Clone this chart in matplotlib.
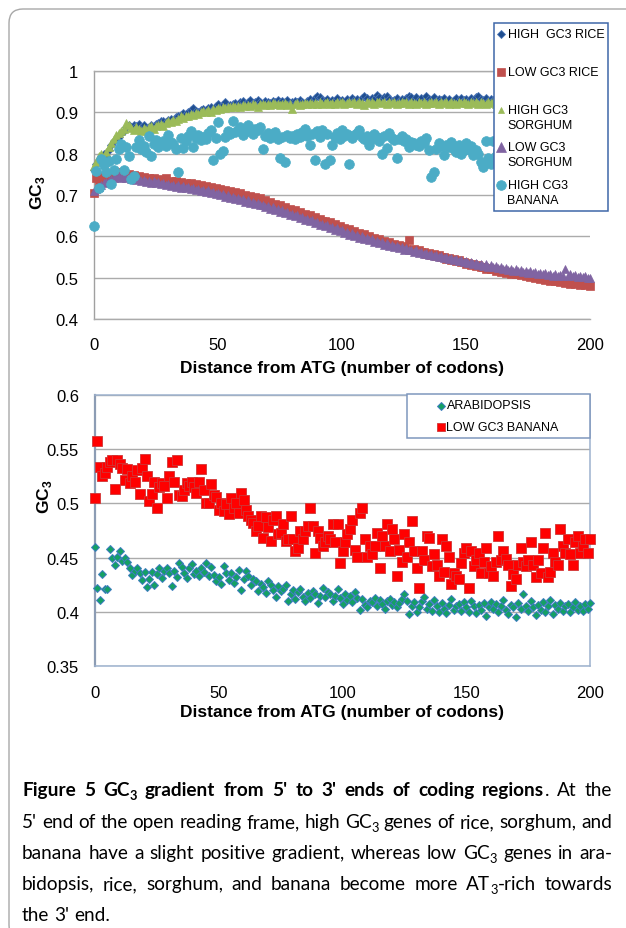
import numpy as np
import matplotlib
matplotlib.use("Agg")
import matplotlib.pyplot as plt
from matplotlib.lines import Line2D
from matplotlib.patches import Rectangle, FancyBboxPatch
from matplotlib.transforms import IdentityTransform
from matplotlib import font_manager

# ---------------- data ----------------
HIGH_GC3_RICE = [
    0.760, 0.775, 0.785, 0.790, 0.800, 0.795, 0.810, 0.820, 0.830, 0.835,
    0.840, 0.850, 0.855, 0.865, 0.870, 0.865, 0.870, 0.868, 0.872, 0.865,
    0.870, 0.860, 0.865, 0.870, 0.868, 0.872, 0.875, 0.878, 0.880, 0.876,
    0.882, 0.885, 0.880, 0.888, 0.890, 0.893, 0.898, 0.895, 0.900, 0.905,
    0.910, 0.903, 0.900, 0.905, 0.908, 0.906, 0.910, 0.912, 0.908, 0.915,
    0.920, 0.914, 0.918, 0.925, 0.915, 0.918, 0.920, 0.922, 0.917, 0.925,
    0.928, 0.920, 0.925, 0.930, 0.922, 0.926, 0.930, 0.924, 0.920, 0.927,
    0.925, 0.922, 0.928, 0.925, 0.930, 0.924, 0.927, 0.925, 0.930, 0.922,
    0.926, 0.928, 0.924, 0.930, 0.926, 0.922, 0.928, 0.932, 0.926, 0.935,
    0.940, 0.936, 0.930, 0.928, 0.933, 0.926, 0.930, 0.928, 0.934, 0.927,
    0.930, 0.926, 0.932, 0.928, 0.935, 0.930, 0.933, 0.928, 0.935, 0.940,
    0.934, 0.928, 0.935, 0.932, 0.943, 0.938, 0.930, 0.936, 0.940, 0.932,
    0.928, 0.930, 0.935, 0.927, 0.932, 0.928, 0.934, 0.940, 0.936, 0.930,
    0.938, 0.930, 0.935, 0.928, 0.940, 0.933, 0.930, 0.936, 0.928, 0.932,
    0.930, 0.935, 0.928, 0.932, 0.926, 0.930, 0.934, 0.928, 0.935, 0.930,
    0.932, 0.928, 0.934, 0.930, 0.936, 0.940, 0.932, 0.930, 0.934, 0.928,
    0.932, 0.930, 0.935, 0.928, 0.932, 0.930, 0.934, 0.928, 0.932, 0.936,
    0.930, 0.928, 0.932, 0.930, 0.934, 0.928, 0.932, 0.930, 0.934, 0.928,
    0.932, 0.930, 0.934, 0.928, 0.932, 0.930, 0.934, 0.928, 0.932, 0.930,
    0.934, 0.928, 0.932, 0.930, 0.934, 0.928, 0.932, 0.930, 0.934, 0.928,
    0.932]

LOW_GC3_RICE = [
    0.705, 0.740, 0.725, 0.745, 0.735, 0.748, 0.740, 0.752, 0.745, 0.755,
    0.750, 0.748, 0.752, 0.746, 0.750, 0.744, 0.748, 0.742, 0.746, 0.740,
    0.744, 0.738, 0.742, 0.736, 0.740, 0.734, 0.738, 0.732, 0.736, 0.740,
    0.732, 0.735, 0.730, 0.733, 0.728, 0.732, 0.726, 0.730, 0.724, 0.728,
    0.722, 0.726, 0.720, 0.724, 0.718, 0.722, 0.716, 0.720, 0.714, 0.718,
    0.712, 0.715, 0.709, 0.712, 0.706, 0.710, 0.703, 0.707, 0.700, 0.704,
    0.697, 0.700, 0.694, 0.698, 0.690, 0.695, 0.688, 0.692, 0.685, 0.688,
    0.680, 0.683, 0.676, 0.679, 0.672, 0.675, 0.668, 0.671, 0.664, 0.667,
    0.660, 0.663, 0.656, 0.659, 0.652, 0.655, 0.648, 0.651, 0.644, 0.647,
    0.640, 0.643, 0.636, 0.638, 0.631, 0.634, 0.627, 0.630, 0.623, 0.625,
    0.618, 0.621, 0.614, 0.617, 0.610, 0.612, 0.606, 0.608, 0.602, 0.605,
    0.598, 0.600, 0.594, 0.597, 0.590, 0.593, 0.587, 0.589, 0.583, 0.586,
    0.580, 0.582, 0.577, 0.579, 0.573, 0.576, 0.570, 0.590, 0.567, 0.569,
    0.564, 0.566, 0.561, 0.563, 0.558, 0.560, 0.555, 0.557, 0.552, 0.554,
    0.549, 0.551, 0.546, 0.548, 0.543, 0.545, 0.540, 0.542, 0.537, 0.539,
    0.534, 0.536, 0.531, 0.533, 0.528, 0.530, 0.525, 0.527, 0.522, 0.524,
    0.520, 0.521, 0.517, 0.519, 0.514, 0.516, 0.512, 0.513, 0.509, 0.511,
    0.508, 0.510, 0.506, 0.508, 0.504, 0.506, 0.502, 0.504, 0.500, 0.502,
    0.497, 0.499, 0.495, 0.497, 0.493, 0.495, 0.491, 0.493, 0.489, 0.491,
    0.487, 0.489, 0.485, 0.487, 0.484, 0.486, 0.483, 0.485, 0.482, 0.484,
    0.481]

HIGH_GC3_SORGHUM = [
    0.770, 0.780, 0.795, 0.800, 0.790, 0.805, 0.815, 0.825, 0.835, 0.845,
    0.850, 0.855, 0.860, 0.875, 0.870, 0.862, 0.858, 0.865, 0.860, 0.855,
    0.862, 0.858, 0.865, 0.868, 0.860, 0.866, 0.870, 0.872, 0.868, 0.875,
    0.880, 0.876, 0.882, 0.878, 0.885, 0.890, 0.887, 0.892, 0.890, 0.895,
    0.893, 0.898, 0.895, 0.900, 0.903, 0.900, 0.905, 0.902, 0.908, 0.905,
    0.910, 0.908, 0.912, 0.910, 0.914, 0.912, 0.915, 0.913, 0.916, 0.914,
    0.918, 0.915, 0.918, 0.916, 0.920, 0.917, 0.912, 0.919, 0.921, 0.918,
    0.920, 0.918, 0.922, 0.919, 0.921, 0.917, 0.920, 0.922, 0.918, 0.921,
    0.908, 0.920, 0.922, 0.918, 0.921, 0.923, 0.920, 0.922, 0.919, 0.923,
    0.921, 0.924, 0.920, 0.922, 0.925, 0.921, 0.923, 0.920, 0.924, 0.922,
    0.925, 0.921, 0.923, 0.926, 0.922, 0.924, 0.920, 0.925, 0.922, 0.918,
    0.924, 0.922, 0.925, 0.921, 0.924, 0.926, 0.922, 0.925, 0.921, 0.924,
    0.922, 0.925, 0.921, 0.923, 0.926, 0.922, 0.924, 0.921, 0.925, 0.923,
    0.920, 0.924, 0.922, 0.926, 0.921, 0.923, 0.925, 0.922, 0.924, 0.921,
    0.925, 0.922, 0.924, 0.920, 0.925, 0.923, 0.921, 0.924, 0.922, 0.926,
    0.923, 0.921, 0.925, 0.922, 0.924, 0.921, 0.926, 0.923, 0.921, 0.925,
    0.922, 0.924, 0.921, 0.925, 0.923, 0.921, 0.924, 0.922, 0.925, 0.921,
    0.923, 0.925, 0.922, 0.924, 0.921, 0.925, 0.923, 0.921, 0.924, 0.922,
    0.925, 0.921, 0.923, 0.925, 0.922, 0.924, 0.921, 0.925, 0.923, 0.921,
    0.924, 0.922, 0.925, 0.921, 0.923, 0.925, 0.922, 0.924, 0.921, 0.925,
    0.923]

LOW_GC3_SORGHUM = [
    0.710, 0.715, 0.720, 0.725, 0.728, 0.732, 0.735, 0.738, 0.742, 0.745,
    0.745, 0.742, 0.745, 0.740, 0.743, 0.738, 0.741, 0.736, 0.739, 0.734,
    0.737, 0.732, 0.735, 0.730, 0.733, 0.728, 0.731, 0.726, 0.729, 0.724,
    0.727, 0.722, 0.725, 0.720, 0.723, 0.718, 0.721, 0.716, 0.719, 0.714,
    0.717, 0.712, 0.715, 0.710, 0.713, 0.708, 0.711, 0.705, 0.708, 0.702,
    0.705, 0.699, 0.702, 0.696, 0.699, 0.693, 0.696, 0.690, 0.693, 0.687,
    0.690, 0.684, 0.687, 0.681, 0.684, 0.678, 0.681, 0.675, 0.677, 0.671,
    0.673, 0.667, 0.670, 0.664, 0.666, 0.660, 0.663, 0.656, 0.659, 0.652,
    0.655, 0.648, 0.651, 0.644, 0.647, 0.640, 0.643, 0.636, 0.639, 0.632,
    0.635, 0.628, 0.631, 0.624, 0.627, 0.620, 0.623, 0.616, 0.619, 0.612,
    0.615, 0.608, 0.611, 0.604, 0.607, 0.600, 0.603, 0.597, 0.600, 0.593,
    0.596, 0.590, 0.593, 0.586, 0.589, 0.583, 0.586, 0.580, 0.583, 0.577,
    0.580, 0.574, 0.577, 0.571, 0.574, 0.568, 0.571, 0.566, 0.568, 0.563,
    0.566, 0.560, 0.563, 0.558, 0.560, 0.555, 0.558, 0.552, 0.555, 0.550,
    0.552, 0.547, 0.550, 0.545, 0.548, 0.542, 0.545, 0.540, 0.543, 0.538,
    0.540, 0.535, 0.538, 0.533, 0.536, 0.531, 0.534, 0.529, 0.532, 0.527,
    0.530, 0.525, 0.528, 0.523, 0.526, 0.521, 0.524, 0.519, 0.522, 0.517,
    0.520, 0.515, 0.518, 0.514, 0.517, 0.512, 0.515, 0.511, 0.514, 0.509,
    0.512, 0.508, 0.511, 0.506, 0.509, 0.505, 0.508, 0.504, 0.507, 0.503,
    0.520, 0.505, 0.508, 0.503, 0.506, 0.502, 0.505, 0.501, 0.504, 0.500,
    0.498]

HIGH_CG3_BANANA = [
    0.625, 0.759, 0.716, 0.787, 0.772, 0.755, 0.783, 0.726, 0.761, 0.787,
    0.811, 0.823, 0.761, 0.817, 0.795, 0.739, 0.747, 0.816, 0.834, 0.812,
    0.818, 0.803, 0.842, 0.795, 0.823, 0.834, 0.815, 0.825, 0.830, 0.818,
    0.846, 0.828, 0.823, 0.812, 0.755, 0.838, 0.814, 0.830, 0.842, 0.855,
    0.816, 0.838, 0.845, 0.832, 0.840, 0.836, 0.850, 0.858, 0.784, 0.838,
    0.876, 0.800, 0.806, 0.840, 0.855, 0.848, 0.880, 0.852, 0.858, 0.864,
    0.845, 0.852, 0.870, 0.860, 0.848, 0.860, 0.858, 0.865, 0.811, 0.842,
    0.850, 0.838, 0.846, 0.852, 0.835, 0.790, 0.840, 0.780, 0.845, 0.838,
    0.843, 0.836, 0.848, 0.840, 0.852, 0.860, 0.842, 0.820, 0.848, 0.785,
    0.855, 0.840, 0.857, 0.776, 0.848, 0.785, 0.820, 0.840, 0.850, 0.835,
    0.857, 0.842, 0.848, 0.776, 0.838, 0.845, 0.850, 0.858, 0.840, 0.835,
    0.842, 0.822, 0.836, 0.848, 0.840, 0.830, 0.800, 0.842, 0.814, 0.850,
    0.838, 0.832, 0.790, 0.836, 0.842, 0.830, 0.835, 0.815, 0.828, 0.825,
    0.822, 0.818, 0.831, 0.826, 0.839, 0.810, 0.743, 0.755, 0.812, 0.825,
    0.818, 0.796, 0.822, 0.815, 0.828, 0.812, 0.805, 0.822, 0.800, 0.810,
    0.826, 0.812, 0.818, 0.796, 0.808, 0.800, 0.780, 0.767, 0.831, 0.790,
    0.775, 0.830, 0.795, 0.810, 0.820, 0.805, 0.815, 0.800, 0.825, 0.812,
    0.808, 0.818, 0.806, 0.822, 0.810, 0.800, 0.816, 0.812, 0.805, 0.820,
    0.808, 0.815, 0.802, 0.818, 0.810, 0.806, 0.820, 0.812, 0.800, 0.816,
    0.808, 0.814, 0.805, 0.818, 0.810, 0.802, 0.815, 0.808, 0.812, 0.806,
    0.810]

ARABIDOPSIS = [
    0.460, 0.422, 0.411, 0.435, 0.421, 0.421, 0.458, 0.450, 0.443, 0.451,
    0.456, 0.447, 0.450, 0.446, 0.440, 0.434, 0.438, 0.440, 0.436, 0.429,
    0.437, 0.423, 0.430, 0.437, 0.425, 0.435, 0.440, 0.431, 0.438, 0.440,
    0.436, 0.424, 0.438, 0.432, 0.445, 0.441, 0.436, 0.431, 0.440, 0.444,
    0.435, 0.438, 0.433, 0.440, 0.437, 0.445, 0.433, 0.441, 0.434, 0.428,
    0.432, 0.426, 0.442, 0.436, 0.429, 0.436, 0.427, 0.432, 0.439, 0.420,
    0.430, 0.438, 0.433, 0.425, 0.430, 0.428, 0.419, 0.426, 0.423, 0.417,
    0.428, 0.425, 0.420, 0.414, 0.424, 0.419, 0.421, 0.425, 0.410, 0.416,
    0.420, 0.412, 0.418, 0.421, 0.414, 0.410, 0.417, 0.413, 0.419, 0.416,
    0.408, 0.415, 0.422, 0.414, 0.418, 0.416, 0.410, 0.415, 0.421, 0.413,
    0.407, 0.416, 0.411, 0.415, 0.409, 0.418, 0.413, 0.402, 0.412, 0.406,
    0.404, 0.410, 0.409, 0.413, 0.405, 0.411, 0.407, 0.403, 0.410, 0.412,
    0.406, 0.409, 0.404, 0.408, 0.412, 0.416, 0.410, 0.398, 0.405, 0.409,
    0.400, 0.404, 0.410, 0.414, 0.403, 0.407, 0.401, 0.411, 0.405, 0.400,
    0.408, 0.403, 0.399, 0.406, 0.412, 0.402, 0.405, 0.407, 0.401, 0.409,
    0.404, 0.400, 0.410, 0.405, 0.399, 0.406, 0.402, 0.408, 0.396, 0.404,
    0.409, 0.403, 0.407, 0.400, 0.405, 0.411, 0.402, 0.398, 0.406, 0.404,
    0.395, 0.408, 0.403, 0.416, 0.405, 0.401, 0.410, 0.404, 0.397, 0.406,
    0.402, 0.409, 0.400, 0.405, 0.411, 0.398, 0.406, 0.403, 0.408, 0.401,
    0.405, 0.407, 0.400, 0.404, 0.409, 0.402, 0.405, 0.401, 0.407, 0.403,
    0.408]

LOW_GC3_BANANA = [
    0.505, 0.558, 0.534, 0.525, 0.528, 0.534, 0.538, 0.540, 0.513, 0.540,
    0.536, 0.533, 0.522, 0.532, 0.519, 0.525, 0.520, 0.531, 0.509, 0.533,
    0.541, 0.525, 0.502, 0.509, 0.520, 0.496, 0.515, 0.519, 0.516, 0.505,
    0.525, 0.538, 0.520, 0.540, 0.508, 0.507, 0.512, 0.519, 0.516, 0.520,
    0.515, 0.510, 0.520, 0.532, 0.512, 0.500, 0.500, 0.518, 0.508, 0.506,
    0.494, 0.500, 0.493, 0.499, 0.490, 0.505, 0.496, 0.500, 0.491, 0.510,
    0.503, 0.494, 0.488, 0.485, 0.482, 0.475, 0.479, 0.488, 0.468, 0.487,
    0.478, 0.465, 0.485, 0.488, 0.472, 0.473, 0.481, 0.465, 0.467, 0.488,
    0.467, 0.456, 0.459, 0.475, 0.467, 0.475, 0.479, 0.496, 0.479, 0.454,
    0.475, 0.468, 0.461, 0.464, 0.470, 0.467, 0.481, 0.464, 0.481, 0.445,
    0.456, 0.464, 0.472, 0.476, 0.485, 0.457, 0.451, 0.491, 0.496, 0.467,
    0.451, 0.461, 0.453, 0.461, 0.473, 0.440, 0.470, 0.461, 0.481, 0.456,
    0.476, 0.467, 0.433, 0.457, 0.446, 0.472, 0.451, 0.464, 0.484, 0.456,
    0.440, 0.422, 0.456, 0.448, 0.470, 0.468, 0.442, 0.453, 0.443, 0.433,
    0.467, 0.437, 0.461, 0.451, 0.426, 0.436, 0.433, 0.430, 0.445, 0.454,
    0.459, 0.422, 0.456, 0.442, 0.448, 0.454, 0.436, 0.446, 0.459, 0.436,
    0.442, 0.433, 0.446, 0.470, 0.448, 0.456, 0.449, 0.443, 0.424, 0.435,
    0.430, 0.443, 0.459, 0.446, 0.442, 0.448, 0.464, 0.443, 0.432, 0.448,
    0.436, 0.459, 0.473, 0.432, 0.437, 0.454, 0.446, 0.443, 0.476, 0.461,
    0.454, 0.467, 0.453, 0.443, 0.464, 0.470, 0.454, 0.461, 0.467, 0.454,
    0.467]

X_TICKS = [0, 50, 100, 150, 200]
Y_TICKS_TOP = [0.4, 0.5, 0.6, 0.7, 0.8, 0.9, 1.0]
Y_LABELS_TOP = ["0.4", "0.5", "0.6", "0.7", "0.8", "0.9", "1"]
Y_TICKS_BOT = [0.35, 0.4, 0.45, 0.5, 0.55, 0.6]
Y_LABELS_BOT = ["0.35", "0.4", "0.45", "0.5", "0.55", "0.6"]

TOP_LEGEND = ["HIGH  GC3 RICE", "LOW GC3 RICE", "HIGH GC3\nSORGHUM",
              "LOW GC3\nSORGHUM", "HIGH CG3\nBANANA"]
BOT_LEGEND = ["ARABIDOPSIS", "LOW GC3 BANANA"]
XLABEL = "Distance from ATG (number of codons)"
YLABEL = r"$\mathbf{GC}_{\mathbf{3}}$"

CAPTION = [
    "*Figure 5 GC_3 gradient from 5' to 3' ends of coding regions*. At the",
    "5' end of the open reading frame, high GC_3 genes of rice, sorghum, and",
    "banana have a slight positive gradient, whereas low GC_3 genes in ara-",
    "bidopsis, rice, sorghum, and banana become more AT_3-rich towards",
    "the 3' end.",
]

# ---------------- style ----------------
plt.rcParams['font.family'] = ['Liberation Sans', 'DejaVu Sans']
plt.rcParams['mathtext.fontset'] = 'custom'
plt.rcParams['mathtext.rm'] = 'Liberation Sans'
plt.rcParams['mathtext.bf'] = 'Liberation Sans:bold'

W, H = 626, 929
fig = plt.figure(figsize=(W / 100, H / 100), dpi=100)
fig.patch.set_facecolor('white')


def fx(px):
    return px / W


def fy(py):
    return 1 - py / H


GRID = '#ABABAB'
TICK_FS = 12
LAB_FS = 12.5

# style of each series: (marker, size, face, edge, edge width)
ST_HRICE = ('D', 4.0, '#1F4E8F', '#4A74B5', 0.6)
ST_LRICE = ('s', 5.8, '#C0504D', '#C0504D', 0.5)
ST_HSORG = ('^', 5.6, '#9BBB59', '#9BBB59', 0.5)
ST_LSORG = ('^', 6.4, '#8064A2', '#8064A2', 0.5)
ST_HBAN = ('o', 7.0, '#4BACC6', '#4BACC6', 0.5)
ST_ARAB = ('D', 4.0, '#14A064', '#3F7CC2', 0.7)
ST_LBAN = ('s', 6.7, '#FF0000', '#D03535', 0.6)


def scatter(ax, ys, st, z):
    m, ms, fc, ec, ew = st
    xs = np.arange(len(ys))
    ax.plot(xs, ys, ls='none', marker=m, ms=ms, mfc=fc, mec=ec, mew=ew,
            clip_on=False, zorder=z)


# ---------------- top panel ----------------
ax1 = fig.add_axes([fx(94), fy(320), fx(590) - fx(94), (320 - 72) / H])
scatter(ax1, HIGH_GC3_RICE, ST_HRICE, 3)
scatter(ax1, LOW_GC3_RICE, ST_LRICE, 3.1)
scatter(ax1, HIGH_GC3_SORGHUM, ST_HSORG, 3.2)
scatter(ax1, LOW_GC3_SORGHUM, ST_LSORG, 3.3)
scatter(ax1, HIGH_CG3_BANANA, ST_HBAN, 3.4)
ax1.set_xlim(0, 200)
ax1.set_ylim(0.4, 1.0)
ax1.set_xticks(X_TICKS)
ax1.set_xticklabels([str(v) for v in X_TICKS])
ax1.set_yticks(Y_TICKS_TOP)
ax1.set_yticklabels(Y_LABELS_TOP)
ax1.grid(axis='y', color=GRID, lw=1.0)
ax1.set_axisbelow(True)
ax1.spines['right'].set_visible(False)
ax1.spines['top'].set_color(GRID)
ax1.spines['left'].set_color('#A0A0A0')
ax1.spines['bottom'].set_color(GRID)
for s in ax1.spines.values():
    s.set_linewidth(1.0)
ax1.tick_params(axis='both', length=0, labelsize=TICK_FS)
ax1.tick_params(axis='y', pad=11.5)
ax1.tick_params(axis='x', pad=13)
ax1.set_xlabel(XLABEL, fontsize=LAB_FS, fontweight='bold', va='center')
ax1.xaxis.set_label_coords(0.5, (320 - 368) / 248)
ax1.set_ylabel(YLABEL, fontsize=LAB_FS, va='center')
ax1.yaxis.set_label_coords((38 - 94) / 496, (320 - 193) / 248)

# ---------------- bottom panel ----------------
ax2 = fig.add_axes([fx(95), fy(667), fx(590) - fx(95), (667 - 396) / H])
scatter(ax2, ARABIDOPSIS, ST_ARAB, 3)
scatter(ax2, LOW_GC3_BANANA, ST_LBAN, 3.1)
ax2.set_xlim(0, 200)
ax2.set_ylim(0.35, 0.6)
ax2.set_xticks(X_TICKS)
ax2.set_xticklabels([str(v) for v in X_TICKS])
ax2.set_yticks(Y_TICKS_BOT)
ax2.set_yticklabels(Y_LABELS_BOT)
ax2.grid(axis='y', color=GRID, lw=1.0)
ax2.set_axisbelow(True)
for s in ax2.spines.values():
    s.set_color('#9DB2CE')
    s.set_linewidth(1.1)
ax2.spines['left'].set_color('#8C9CB4')
ax2.spines['left'].set_linewidth(1.6)
ax2.tick_params(axis='both', length=0, labelsize=TICK_FS)
ax2.tick_params(axis='y', pad=11.5)
ax2.tick_params(axis='x', pad=14)
ax2.set_xlabel(XLABEL, fontsize=LAB_FS, fontweight='bold', va='center')
ax2.xaxis.set_label_coords(0.5, (667 - 713) / 271)
ax2.set_ylabel(YLABEL, fontsize=LAB_FS, va='center')
ax2.yaxis.set_label_coords((44 - 95) / 495, (667 - 497) / 271)


# ---------------- legends (drawn as figure artists) ----------------
def legend_box(x0, y0, x1, y1, ec):
    fig.add_artist(Rectangle((fx(x0), fy(y1)), fx(x1) - fx(x0), (y1 - y0) / H,
                             transform=fig.transFigure, fc='white', ec=ec,
                             lw=1.1, zorder=5))


def legend_item(xm, xt, yc, st, label, ms_scale=1.0):
    m, ms, fc, ec, ew = st
    fig.add_artist(Line2D([fx(xm)], [fy(yc)], transform=fig.transFigure,
                          ls='none', marker=m, ms=ms * ms_scale, mfc=fc,
                          mec=ec, mew=ew, zorder=6))
    lines = label.split('\n')
    for k, ln in enumerate(lines):
        fig.text(fx(xt), fy(yc + 15 * k), ln, fontsize=9, va='center',
                 ha='left', zorder=7)


legend_box(494, 24, 608, 212, '#3F67A8')
top_y = [35, 73.3, 110.7, 148.3, 186]
top_st = [ST_HRICE, ST_LRICE, ST_HSORG, ST_LSORG, ST_HBAN]
top_sc = [0.9, 1.05, 0.75, 1.15, 1.0]
for yc, st, lab, sc in zip(top_y, top_st, TOP_LEGEND, top_sc):
    legend_item(500.7, 507.5, yc, st, lab, sc)

legend_box(407, 395, 590, 439, '#7F97BD')
for yc, st, lab, sc in zip([406.5, 428.3], [ST_ARAB, ST_LBAN], BOT_LEGEND, [1.0, 0.95]):
    legend_item(441, 446.5, yc, st, lab, sc)

# ---------------- outer rounded frame ----------------
fig.add_artist(FancyBboxPatch((9, H - 940), W + 40, 930,
                              boxstyle="round,pad=0,rounding_size=14",
                              transform=IdentityTransform(), fc='none',
                              ec='#A8A8A8', lw=1.0, zorder=1))

# ---------------- caption (justified) ----------------
_installed = {f.name for f in font_manager.fontManager.ttflist}
_cands = ['Lato', 'Roboto', 'Open Sans']
CAP_NAME = next((c for c in _cands if c in _installed), 'DejaVu Sans')
CAP_FONT = [CAP_NAME, 'DejaVu Sans']
renderer = fig.canvas.get_renderer()
px_per_pt = 100 / 72


def parse_line(line, bold):
    words, runs, buf = [], [], ''
    sub_next = False
    for c in line:
        if sub_next:
            runs.append((c, bold, True))
            sub_next = False
            continue
        if c == '*':
            if buf:
                runs.append((buf, bold, False))
                buf = ''
            bold = not bold
        elif c == '_':
            if buf:
                runs.append((buf, bold, False))
                buf = ''
            sub_next = True
        elif c == ' ':
            if buf:
                runs.append((buf, bold, False))
                buf = ''
            words.append(runs)
            runs = []
        else:
            buf += c
    if buf:
        runs.append((buf, bold, False))
    if runs:
        words.append(runs)
    return words, bold


def text_width(s, size, bold):
    t = fig.text(0, 0, s, fontsize=size, fontweight='bold' if bold else 'normal',
                 family=CAP_FONT)
    w = t.get_window_extent(renderer).width
    t.remove()
    return w


SUB_SCALE = 0.68


def word_width(runs, size):
    return sum(text_width(s, size * (SUB_SCALE if sub else 1), b)
               for s, b, sub in runs)


parsed = []
bold = False
for ln in CAPTION:
    words, bold = parse_line(ln, bold)
    parsed.append(words)

X0, X1 = 22, 612
BASE = 13.0
space0 = text_width('x x', BASE, False) - text_width('xx', BASE, False)
nat = []
for words in parsed[:-1]:
    nat.append(sum(word_width(w, BASE) for w in words) + space0 * (len(words) - 1))
fs = min(14.0, BASE * min((X1 - X0) / n for n in nat) * 0.995)
space = space0 * fs / BASE

baselines = [796, 828, 859, 890, 921]
for li, words in enumerate(parsed):
    widths = [word_width(w, fs) for w in words]
    if li < len(parsed) - 1:
        gap = ((X1 - X0) - sum(widths)) / (len(words) - 1)
    else:
        gap = space
    x = X0
    for w, wd in zip(words, widths):
        xx = x
        for s, b, sub in w:
            size = fs * (SUB_SCALE if sub else 1)
            yb = baselines[li] + (0.22 * fs * px_per_pt if sub else 0)
            fig.text(fx(xx), fy(yb), s, fontsize=size,
                     fontweight='bold' if b else 'normal', family=CAP_FONT,
                     va='baseline', ha='left')
            xx += text_width(s, size, b)
        x += wd + gap

fig.savefig('out.png', dpi=100)
